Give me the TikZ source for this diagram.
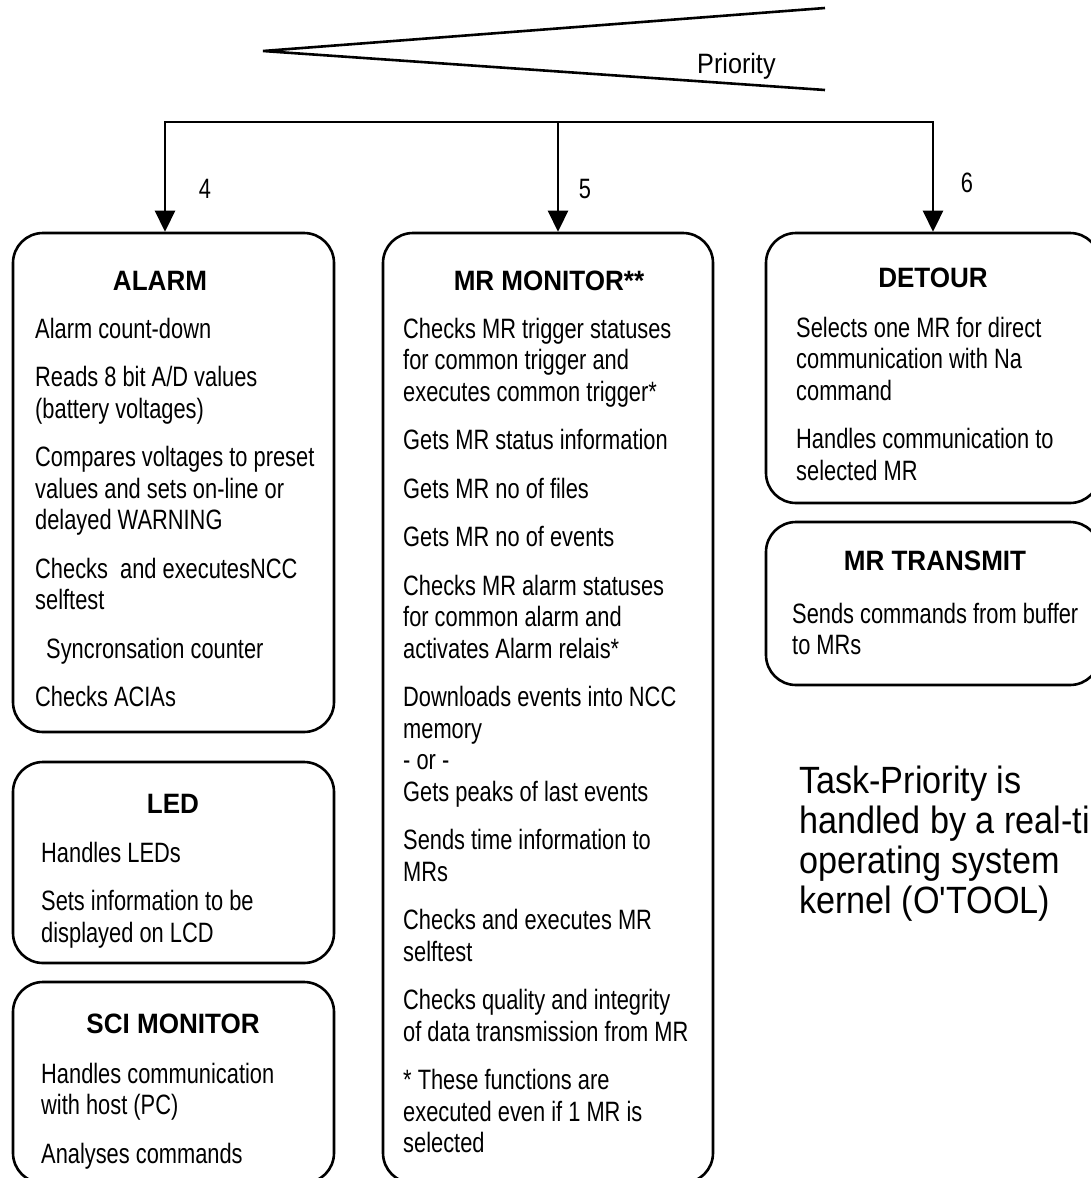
\documentclass[tikz,border=0pt]{standalone}
\usepackage{fontspec}
\setmainfont{Liberation Sans}
\newfontfamily\narrowsans[FakeStretch=0.78]{Liberation Sans}
\newfontfamily\headsans[FakeStretch=0.93]{Liberation Sans}
\newfontfamily\notesans[FakeStretch=0.9,Ligatures=TeXOff]{Liberation Sans}
\usetikzlibrary{arrows.meta}

% body text of a task box: fixed line pitch, gap between items
\newcommand\tasklines[2]{%
  \begin{minipage}[t]{#1}\raggedright\narrowsans
    \fontsize{28}{31.5}\selectfont\setlength\parskip{17pt}%
    #2%
  \end{minipage}}

\tikzset{
  taskbox/.style={draw, rounded corners=30pt, line width=2.6pt, inner sep=0pt},
  tasktitle/.style={inner sep=0pt, anchor=base,
    font=\headsans\bfseries\fontsize{28}{32}\selectfont},
  tasktext/.style={inner sep=0pt, anchor=base west},
  prio/.style={-{Triangle[width=20pt,length=21pt]}, line width=2.6pt},
  prionum/.style={inner sep=0pt, anchor=base, font=\narrowsans\fontsize{28}{32}\selectfont},
  wedge/.style={line width=2.6pt, line join=miter}
}

\begin{document}
\begin{tikzpicture}[x=1pt, y=-1pt]
  \useasboundingbox (0,0) rectangle (1091,1178);
  \clip (0,0) rectangle (1091,1178);
  \fill[white] (0,0) rectangle (1091,1178);

  % priority wedge
  \coordinate (wtop) at (825,8);
  \coordinate (apex) at (263,51);
  \coordinate (wbot) at (825,90);
  \draw[wedge] (wtop) -- (apex) -- (wbot);
  \node[inner sep=0pt, anchor=base west, font=\notesans\fontsize{28}{32}\selectfont]
    (priolabel) at (697,73) {Priority};

  % task boxes
  \node[taskbox, minimum width=321pt, minimum height=499pt] (alarm)  at (173.5,482.5) {};
  \node[taskbox, minimum width=321pt, minimum height=201pt] (led)    at (173.5,862.5) {};
  \node[taskbox, minimum width=321pt, minimum height=201pt] (sci)    at (173.5,1082.5) {};
  \node[taskbox, minimum width=330pt, minimum height=950pt] (mrmon)  at (548,708) {};
  \node[taskbox, minimum width=334pt, minimum height=270pt] (detour) at (933,368) {};
  \node[taskbox, minimum width=334pt, minimum height=163pt] (mrtx)   at (933,603.5) {};

  % priority distribution lines
  \coordinate (c4) at (165,122);
  \coordinate (c5) at (558,122);
  \coordinate (c6) at (933,122);
  \draw[prio] (c5) -| (c4 |- alarm.north);
  \draw[prio] (c5) -| (c6 |- detour.north);
  \draw[prio] (c5) -- (c5 |- mrmon.north);
  \node[prionum] (n4) at (205,198) {4};
  \node[prionum] (n5) at (585,198) {5};
  \node[prionum] (n6) at (967,192) {6};

  % ALARM
  \node[tasktitle] (alarmtitle) at (160,290) {ALARM};
  \node[tasktext] (alarmtext) at (35,338) {\tasklines{295pt}{%
    Alarm count-down\par
    Reads 8 bit A/D values\\(battery voltages)\par
    Compares voltages to preset\\values and sets on-line or\\delayed WARNING\par
    Checks\ \ and executesNCC\\selftest\par
    \hspace*{11pt}Syncronsation counter\par
    Checks ACIAs}};

  % LED
  \node[tasktitle] (ledtitle) at (173,813) {LED};
  \node[tasktext] (ledtext) at (41,862) {\tasklines{290pt}{%
    Handles LEDs\par
    Sets information to be\\displayed on LCD}};

  % SCI MONITOR
  \node[tasktitle] (scititle) at (173,1033) {SCI MONITOR};
  \node[tasktext] (scitext) at (41,1083) {\tasklines{290pt}{%
    Handles communication\\with host (PC)\par
    Analyses commands}};

  % MR MONITOR
  \node[tasktitle] (mrmontitle) at (549,290) {MR MONITOR**};
  \node[tasktext] (mrmontext) at (403,338) {\tasklines{305pt}{%
    Checks MR trigger statuses\\for common trigger and\\executes common trigger*\par
    Gets MR status information\par
    Gets MR no of files\par
    Gets MR no of events\par
    Checks MR alarm statuses\\for common alarm and\\activates Alarm relais*\par
    Downloads events into NCC\\memory\\- or -\\Gets peaks of last events\par
    Sends time information to\\MRs\par
    Checks and executes MR\\selftest\par
    Checks quality and integrity\\of data transmission from MR\par
    * These functions are\\executed even if 1 MR is\\selected}};

  % DETOUR
  \node[tasktitle] (detourtitle) at (933,287) {DETOUR};
  \node[tasktext] (detourtext) at (796,337) {\tasklines{300pt}{%
    Selects one MR for direct\\communication with Na\\command\par
    Handles communication to\\selected MR}};

  % MR TRANSMIT
  \node[tasktitle] (mrtxtitle) at (935,570) {MR TRANSMIT};
  \node[tasktext] (mrtxtext) at (792,623) {\tasklines{300pt}{%
    Sends commands from buffer\\to MRs}};

  % scheduling note
  \node[inner sep=0pt, anchor=base west] (note) at (799,793) {%
    \begin{minipage}[t]{420pt}\notesans\fontsize{38}{40}\selectfont
      Task-Priority is\\handled by a real-time\\operating system\\kernel (O'TOOL)%
    \end{minipage}};
\end{tikzpicture}
\end{document}
